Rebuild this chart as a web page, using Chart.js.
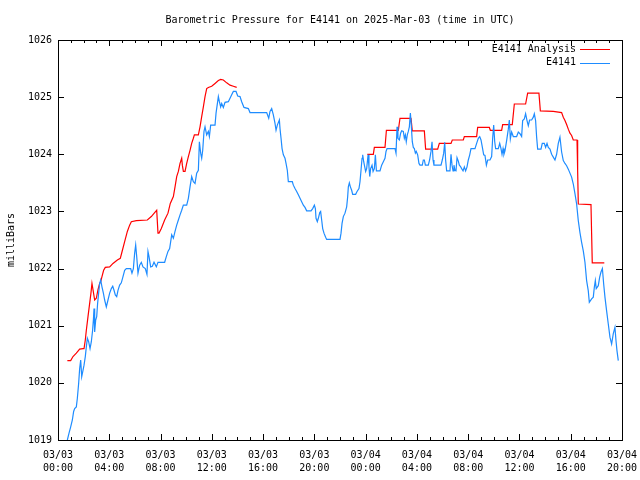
<!DOCTYPE html>
<html>
<head>
<meta charset="utf-8">
<script src="https://cdn.jsdelivr.net/npm/chart.js@4.4.1/dist/chart.umd.min.js"></script>
<style>
  html, body { margin: 0; padding: 0; background: #fff; }
  #wrap { width: 640px; height: 480px; }
</style>
</head>
<body>
<div id="wrap"><canvas id="pressureChart" width="640" height="480"></canvas></div>
<script>
// hours since 03/03 00:00 UTC
const analysisHours = [0.73, 0.99, 1.17, 1.43, 1.69, 1.95, 2.03, 2.13, 2.21, 2.34, 2.47, 2.57, 2.65, 2.73, 2.86, 2.99, 3.12, 3.25, 3.33, 3.43, 3.56, 3.69, 4.03, 4.29, 4.63, 4.86, 4.99, 5.20, 5.41, 5.59, 5.72, 6.11, 6.97, 7.28, 7.54, 7.70, 7.80, 7.88, 8.06, 8.32, 8.58, 8.76, 9.00, 9.13, 9.26, 9.39, 9.52, 9.65, 9.70, 9.78, 9.91, 10.04, 10.17, 10.30, 10.43, 10.56, 10.64, 10.95, 11.08, 11.21, 11.34, 11.47, 11.60, 11.73, 11.99, 12.25, 12.51, 12.69, 12.90, 13.16, 13.42, 13.68, 13.94, 19.00, 24.13, 24.60, 24.68, 25.51, 25.62, 26.55, 26.68, 27.54, 27.64, 28.58, 28.68, 29.62, 29.75, 30.66, 30.76, 31.62, 31.70, 32.66, 32.74, 33.65, 33.73, 34.61, 34.69, 35.44, 35.60, 36.48, 36.64, 37.52, 37.63, 38.64, 39.29, 39.42, 39.55, 39.68, 39.81, 39.94, 40.07, 40.20, 40.49, 40.54, 40.59, 41.58, 41.63, 41.68, 42.62];
const analysisValues = [1020.39, 1020.39, 1020.46, 1020.52, 1020.59, 1020.60, 1020.60, 1020.75, 1020.92, 1021.16, 1021.39, 1021.57, 1021.74, 1021.63, 1021.45, 1021.48, 1021.63, 1021.74, 1021.77, 1021.86, 1021.97, 1022.02, 1022.03, 1022.09, 1022.15, 1022.18, 1022.29, 1022.47, 1022.65, 1022.76, 1022.82, 1022.84, 1022.85, 1022.91, 1022.98, 1023.02, 1022.62, 1022.62, 1022.70, 1022.85, 1022.97, 1023.14, 1023.26, 1023.43, 1023.61, 1023.70, 1023.84, 1023.93, 1023.81, 1023.70, 1023.70, 1023.84, 1023.96, 1024.07, 1024.19, 1024.28, 1024.34, 1024.34, 1024.48, 1024.66, 1024.83, 1025.01, 1025.15, 1025.17, 1025.19, 1025.24, 1025.29, 1025.31, 1025.30, 1025.25, 1025.21, 1025.19, 1025.17, null, 1024.00, 1024.00, 1024.12, 1024.12, 1024.42, 1024.42, 1024.63, 1024.63, 1024.41, 1024.41, 1024.09, 1024.09, 1024.19, 1024.19, 1024.25, 1024.25, 1024.31, 1024.31, 1024.47, 1024.47, 1024.42, 1024.42, 1024.52, 1024.52, 1024.88, 1024.88, 1025.07, 1025.07, 1024.76, 1024.75, 1024.73, 1024.65, 1024.59, 1024.52, 1024.44, 1024.37, 1024.33, 1024.25, 1024.25, 1023.71, 1023.13, 1023.12, 1022.61, 1022.10, 1022.10];

const obsHours = [0.73, 0.86, 0.99, 1.12, 1.22, 1.30, 1.43, 1.51, 1.61, 1.69, 1.77, 1.85, 1.95, 2.03, 2.13, 2.21, 2.29, 2.39, 2.50, 2.60, 2.70, 2.76, 2.81, 2.86, 2.94, 3.02, 3.09, 3.17, 3.25, 3.33, 3.43, 3.54, 3.64, 3.77, 3.90, 4.03, 4.16, 4.27, 4.37, 4.47, 4.58, 4.68, 4.81, 4.94, 5.07, 5.20, 5.33, 5.67, 5.77, 5.88, 5.98, 6.06, 6.14, 6.24, 6.37, 6.50, 6.63, 6.81, 6.94, 7.02, 7.10, 7.23, 7.36, 7.49, 7.67, 7.80, 8.32, 8.45, 8.58, 8.71,
  8.87, 9.00, 9.13, 9.26, 9.39, 9.52, 9.65, 9.78, 10.04, 10.17, 10.30, 10.43, 10.56, 10.69, 10.82, 10.95, 11.03, 11.13, 11.21, 11.29, 11.39, 11.47, 11.60, 11.73, 11.81, 11.91, 12.25, 12.33, 12.51, 12.59, 12.69, 12.77, 12.90, 13.03, 13.29, 13.42, 13.55, 13.68, 13.89, 14.02, 14.20, 14.33, 14.51, 14.85, 14.98, 16.28, 16.44, 16.54, 16.67, 16.80, 16.93, 17.01, 17.11, 17.27, 17.32, 17.40, 17.48, 17.58, 17.71,
  17.79, 17.89, 17.97, 18.28, 18.36, 18.49, 18.62, 18.75, 18.88, 19.01, 19.14, 19.27, 19.40, 19.74, 19.87, 20.00, 20.08, 20.13, 20.23, 20.31, 20.42, 20.49, 20.57, 20.65, 20.75, 20.88, 20.96, 22.00, 22.08, 22.16, 22.26, 22.39, 22.52, 22.60, 22.65, 22.73, 22.81, 22.91, 22.99, 23.22, 23.33, 23.48, 23.56, 23.64, 23.72, 23.77, 23.85, 23.93, 24.00, 24.08, 24.19, 24.26, 24.32, 24.39, 24.50, 24.58, 24.68, 24.76, 24.84, 25.12, 25.25, 25.38, 25.51, 25.59, 25.67, 26.29,
  26.37, 26.45, 26.52, 26.63, 26.73, 26.81, 26.94, 27.02, 27.10, 27.17, 27.25, 27.33, 27.41, 27.49, 27.56, 27.64, 27.72, 27.80, 27.88, 27.95, 28.06, 28.16, 28.24, 28.42, 28.50, 28.58, 28.66, 28.89, 28.99, 29.10, 29.18, 29.26, 29.33, 29.88, 29.98, 30.09, 30.17, 30.24, 30.32, 30.58, 30.66, 30.74, 30.82, 30.89, 30.97, 31.05, 31.13, 31.23, 31.31, 31.39, 31.49, 31.60, 31.70, 31.80, 31.91, 32.01, 32.12, 32.22, 32.53, 32.66, 32.79, 32.90, 33.00, 33.10, 33.21, 33.31, 33.42, 33.52, 33.70, 33.83, 33.91, 33.99, 34.07, 34.14, 34.35, 34.46, 34.56, 34.64, 34.72, 34.79,
  34.87, 35.00, 35.13, 35.21, 35.29, 35.39, 35.52, 35.78, 35.91, 36.04, 36.17, 36.25, 36.38, 36.48, 36.59, 36.69, 36.79, 36.95, 37.08, 37.16, 37.26, 37.34, 37.42, 37.68, 37.78, 37.94, 38.04, 38.15, 38.25, 38.38, 38.51, 38.64, 38.77, 38.90, 39.03, 39.16, 39.29, 39.42, 39.55, 39.68, 39.81, 39.94, 40.07, 40.20, 40.33, 40.46, 40.59, 40.72, 40.85, 40.98, 41.11, 41.24, 41.37, 41.45, 41.63, 41.76, 41.84, 41.92, 41.99, 42.15, 42.26, 42.36, 42.47, 42.57, 42.67, 42.80, 42.93, 43.06, 43.19, 43.32, 43.45, 43.53, 43.61, 43.71];
const obsValues = [1019.00, 1019.12, 1019.23, 1019.35, 1019.50, 1019.55, 1019.58, 1019.73, 1019.99, 1020.25, 1020.40, 1020.11, 1020.22, 1020.31, 1020.46, 1020.63, 1020.78, 1020.72, 1020.60, 1020.72, 1020.92, 1021.10, 1021.30, 1020.89, 1021.10, 1021.16, 1021.39, 1021.57, 1021.74, 1021.80, 1021.68, 1021.57, 1021.45, 1021.33, 1021.45, 1021.57, 1021.65, 1021.69, 1021.62, 1021.54, 1021.51, 1021.62, 1021.71, 1021.75, 1021.86, 1021.97, 1022.00, 1022.00, 1021.92, 1022.00, 1022.27, 1022.41, 1022.21, 1021.92, 1022.06, 1022.11, 1022.03, 1022.00, 1021.90, 1022.30, 1022.21, 1022.03, 1022.04, 1022.11, 1022.03, 1022.11, 1022.11, 1022.21, 1022.30, 1022.35,
  1022.59, 1022.53, 1022.65, 1022.76, 1022.85, 1022.94, 1023.02, 1023.11, 1023.11, 1023.23, 1023.43, 1023.61, 1023.52, 1023.49, 1023.67, 1023.72, 1024.22, 1024.02, 1023.93, 1024.07, 1024.40, 1024.48, 1024.34, 1024.40, 1024.31, 1024.51, 1024.51, 1024.72, 1025.01, 1024.92, 1024.83, 1024.89, 1024.82, 1024.91, 1024.92, 1024.98, 1025.04, 1025.10, 1025.10, 1025.02, 1025.01, 1024.92, 1024.82, 1024.80, 1024.73, 1024.73, 1024.63, 1024.75, 1024.80, 1024.69, 1024.54, 1024.42, 1024.51, 1024.60, 1024.45, 1024.28, 1024.10, 1023.99, 1023.93,
  1023.84, 1023.72, 1023.52, 1023.52, 1023.46, 1023.40, 1023.35, 1023.29, 1023.23, 1023.17, 1023.11, 1023.07, 1023.01, 1023.01, 1023.05, 1023.11, 1023.05, 1022.88, 1022.82, 1022.88, 1022.98, 1023.00, 1022.85, 1022.70, 1022.62, 1022.55, 1022.51, 1022.51, 1022.62, 1022.79, 1022.91, 1022.97, 1023.08, 1023.26, 1023.43, 1023.50, 1023.43, 1023.37, 1023.30, 1023.30, 1023.35, 1023.40, 1023.52, 1023.72, 1023.93, 1023.99, 1023.87, 1023.78, 1023.70, 1023.75, 1023.99, 1023.78, 1023.61, 1023.75, 1023.81, 1023.70, 1023.75, 1023.99, 1023.71, 1023.71, 1023.81, 1023.87, 1023.93, 1024.05, 1024.10, 1024.10,
  1024.02, 1024.48, 1024.28, 1024.25, 1024.37, 1024.41, 1024.40, 1024.28, 1024.34, 1024.22, 1024.34, 1024.40, 1024.48, 1024.72, 1024.51, 1024.22, 1024.12, 1024.10, 1024.02, 1024.05, 1023.99, 1023.84, 1023.81, 1023.81, 1023.90, 1023.90, 1023.81, 1023.81, 1023.90, 1024.05, 1024.22, 1023.90, 1023.81, 1023.81, 1023.90, 1024.02, 1024.21, 1023.90, 1023.71, 1023.71, 1024.00, 1023.81, 1023.71, 1023.81, 1023.72, 1023.71, 1023.94, 1023.88, 1023.81, 1023.79, 1023.75, 1023.71, 1023.78, 1023.71, 1023.78, 1023.90, 1023.99, 1024.10, 1024.10, 1024.19, 1024.28, 1024.31, 1024.25, 1024.13, 1023.99, 1023.98, 1023.81, 1023.90, 1023.90, 1023.96, 1024.28, 1024.51, 1024.22, 1024.10, 1024.10, 1024.19, 1024.10, 1024.00, 1024.10, 1024.00,
  1024.06, 1024.24, 1024.44, 1024.60, 1024.27, 1024.39, 1024.31, 1024.31, 1024.39, 1024.36, 1024.31, 1024.59, 1024.62, 1024.71, 1024.59, 1024.50, 1024.60, 1024.60, 1024.65, 1024.71, 1024.59, 1024.30, 1024.09, 1024.09, 1024.19, 1024.19, 1024.12, 1024.19, 1024.12, 1024.09, 1024.00, 1023.95, 1023.90, 1024.00, 1024.19, 1024.30, 1024.04, 1023.89, 1023.84, 1023.80, 1023.74, 1023.67, 1023.60, 1023.48, 1023.31, 1023.13, 1022.84, 1022.63, 1022.46, 1022.31, 1022.11, 1021.79, 1021.61, 1021.41, 1021.47, 1021.50, 1021.67, 1021.79, 1021.65, 1021.70, 1021.85, 1021.94, 1022.00, 1021.73, 1021.50, 1021.26, 1021.03, 1020.80, 1020.68, 1020.86, 1020.97, 1020.74, 1020.56, 1020.39];

const xMin = 0, xMax = 44;      // 03/03 00:00 .. 03/04 20:00
const yMin = 1019, yMax = 1026;

const pad = n => (n < 10 ? '0' : '') + n;

// gnuplot-ish inward ticks, frame and legend
const framePlugin = {
    id: 'frame',
    afterDraw(chart) {
        const { ctx, chartArea: a, scales } = chart;
        const xs = scales.x, ys = scales.y;
        ctx.save();
        ctx.strokeStyle = '#000';
        ctx.lineWidth = 1;
        ctx.beginPath();
        for (let h = xMin; h <= xMax; h++) {
            const px = Math.round(xs.getPixelForValue(h)) + 0.5;
            const len = h % 4 === 0 ? 6 : 3;
            ctx.moveTo(px, a.bottom); ctx.lineTo(px, a.bottom - len);
            ctx.moveTo(px, a.top); ctx.lineTo(px, a.top + len);
        }
        for (let v = yMin; v <= yMax; v++) {
            const py = Math.round(ys.getPixelForValue(v)) + 0.5;
            ctx.moveTo(a.left, py); ctx.lineTo(a.left + 6, py);
            ctx.moveTo(a.right, py); ctx.lineTo(a.right - 6, py);
        }
        ctx.stroke();
        ctx.strokeRect(Math.round(a.left) + 0.5, Math.round(a.top) + 0.5,
            Math.round(a.right - a.left), Math.round(a.bottom - a.top));

        // legend
        ctx.font = '10px "DejaVu Sans Mono"';
        ctx.textAlign = 'right';
        ctx.textBaseline = 'middle';
        ctx.fillStyle = '#000';
        chart.data.datasets.forEach((ds, i) => {
            const y = a.top + 9 + i * 13.5;
            ctx.fillText(ds.label, a.right - 46, y);
            ctx.strokeStyle = ds.borderColor;
            ctx.beginPath();
            ctx.moveTo(a.right - 42, Math.round(y) + 0.5);
            ctx.lineTo(a.right - 12, Math.round(y) + 0.5);
            ctx.stroke();
        });
        ctx.restore();
    }
};

Chart.defaults.font.family = '"DejaVu Sans Mono", monospace';
Chart.defaults.font.size = 10;
Chart.defaults.color = '#000';

const ctx = document.getElementById('pressureChart').getContext('2d');
new Chart(ctx, {
    type: 'line',
    data: {
        datasets: [
            {
                label: 'E4141 Analysis',
                data: analysisHours.map((h, i) => ({ x: h, y: analysisValues[i] })),
                borderColor: '#ff0000',
                borderWidth: 1.2,
                pointRadius: 0,
                spanGaps: false,
                order: 1
            },
            {
                label: 'E4141',
                data: obsHours.map((h, i) => ({ x: h, y: obsValues[i] })),
                borderColor: '#1e8cff',
                borderWidth: 1.2,
                pointRadius: 0,
                order: 0
            }
        ]
    },
    options: {
        responsive: false,
        animation: false,
        events: [],
        layout: { padding: { left: 0, right: 18, top: 0, bottom: 0 } },
        plugins: {
            legend: { display: false },
            tooltip: { enabled: false },
            title: {
                display: true,
                fullSize: false,
                text: 'Barometric Pressure for E4141 on 2025-Mar-03 (time in UTC)',
                font: { size: 10, weight: 'normal', lineHeight: 1.2 },
                padding: { top: 14, bottom: 14 }
            }
        },
        scales: {
            x: {
                type: 'linear',
                min: xMin,
                max: xMax,
                grid: { display: false, drawTicks: false },
                border: { display: false },
                ticks: {
                    stepSize: 4,
                    padding: 9,
                    maxRotation: 0,
                    autoSkip: false,
                    font: { size: 10, lineHeight: 1.3 },
                    callback: v => ['03/0' + (3 + Math.floor(v / 24)), pad(v % 24) + ':00']
                },
                afterFit: s => { s.height = 40; s.paddingLeft = 0; s.paddingRight = 0; }
            },
            y: {
                min: yMin,
                max: yMax,
                grid: { display: false, drawTicks: false },
                border: { display: false },
                ticks: { stepSize: 1, padding: 6, callback: v => String(v) },
                title: { display: true, text: 'milliBars', padding: { top: 5, bottom: 0 } },
                afterFit: s => { s.width = 58; s.paddingTop = 0; s.paddingBottom = 0; }
            }
        }
    },
    plugins: [framePlugin]
});
</script>
</body>
</html>
